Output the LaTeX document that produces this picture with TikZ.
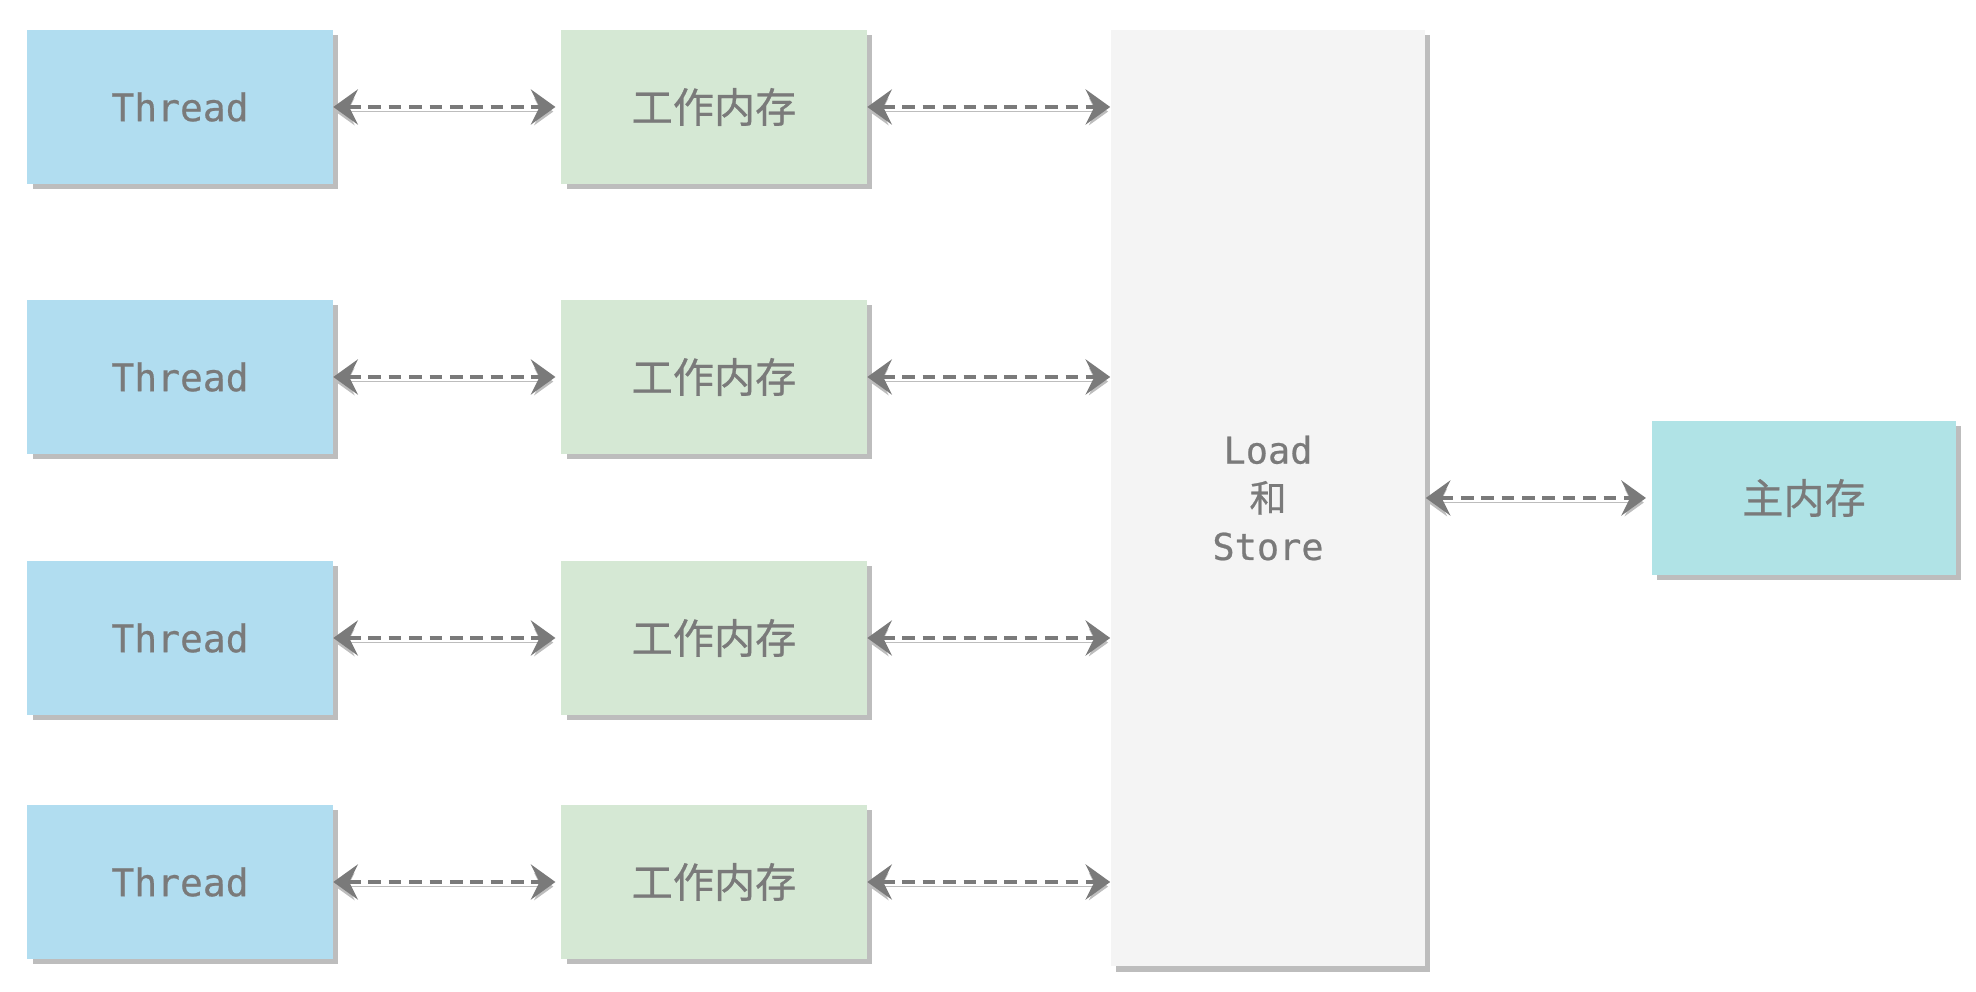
\documentclass[tikz,border=0pt]{standalone}
\usepackage{fontspec}
\setmonofont[FakeBold=0.6]{DejaVu Sans Mono}
\newfontfamily\cjk[FakeBold=0.6]{Noto Sans CJK SC}
\usetikzlibrary{arrows.meta,shadows}
\definecolor{threadblue}{HTML}{B1DDF0}
\definecolor{workgreen}{HTML}{D5E8D4}
\definecolor{storegray}{HTML}{F4F4F4}
\definecolor{maincyan}{HTML}{B0E3E6}
\definecolor{textgray}{HTML}{7A7A7A}
\definecolor{shadowgray}{HTML}{BDBDBD}
\begin{document}
\begin{tikzpicture}[x=0.01cm,y=-0.01cm,
    box/.style = {minimum width=3.05cm,minimum height=1.54cm,inner sep=0pt,text=textgray,
                  drop shadow={shadow xshift=1.5pt,shadow yshift=-1.5pt,fill=shadowgray,opacity=1}},
    thread/.style = {box,fill=threadblue,font=\ttfamily\fontsize{10.8}{13}\selectfont},
    work/.style = {box,fill=workgreen,font=\cjk\fontsize{11.7}{14}\selectfont},
    arrow/.style = {line width=1.1pt,draw=textgray,dash pattern=on 3.6pt off 2.2pt,
                    {Stealth[length=7pt,width=10pt,inset=2.5pt]}-{Stealth[length=7pt,width=10pt,inset=2.5pt]},
                    preaction={draw=shadowgray,transform canvas={yshift=-1.3pt}}}]
    \useasboundingbox (0,0) rectangle (1976,992);

    \node[thread] (t1) at (180,107) {Thread};
    \node[thread] (t2) at (180,377) {Thread};
    \node[thread] (t3) at (180,638) {Thread};
    \node[thread] (t4) at (180,882) {Thread};

    \node[work] (w1) at (714,107) {工作内存};
    \node[work] (w2) at (714,377) {工作内存};
    \node[work] (w3) at (714,638) {工作内存};
    \node[work] (w4) at (714,882) {工作内存};

    \node[box,fill=storegray,minimum width=3.14cm,minimum height=9.36cm,align=center,
          font=\ttfamily\fontsize{10.5}{13.7}\selectfont] (ls) at (1268,498)
          {Load\\{\cjk 和}\\Store};
    \node[box,fill=maincyan,minimum width=3.04cm,font=\cjk\fontsize{11.7}{14}\selectfont]
          (main) at (1804,498) {主内存};

    \coordinate (l1) at (ls.west |- w1);
    \coordinate (l2) at (ls.west |- w2);
    \coordinate (l3) at (ls.west |- w3);
    \coordinate (l4) at (ls.west |- w4);

    \draw[arrow] (t1.east) -- ([xshift=-1.5pt]w1.west);
    \draw[arrow] (t2.east) -- ([xshift=-1.5pt]w2.west);
    \draw[arrow] (t3.east) -- ([xshift=-1.5pt]w3.west);
    \draw[arrow] (t4.east) -- ([xshift=-1.5pt]w4.west);

    \draw[arrow] (w1.east) -- (l1);
    \draw[arrow] (w2.east) -- (l2);
    \draw[arrow] (w3.east) -- (l3);
    \draw[arrow] (w4.east) -- (l4);

    \draw[arrow] (ls.east) -- ([xshift=-1.5pt]main.west);
\end{tikzpicture}
\end{document}
